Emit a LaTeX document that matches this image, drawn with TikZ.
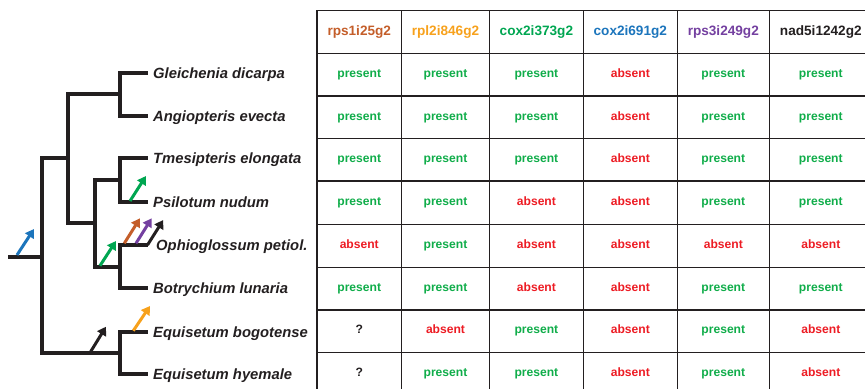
\documentclass[tikz,border=0pt]{standalone}
\usepackage{fontspec}
\setmainfont{Liberation Sans}
\usetikzlibrary{arrows.meta}

\definecolor{ink}{HTML}{231F20}
\definecolor{pgreen}{HTML}{10AD4A}
\definecolor{ared}{HTML}{ED1C24}
\definecolor{cbrown}{HTML}{C45E2A}
\definecolor{corange}{HTML}{F7A11C}
\definecolor{cgreen}{HTML}{00A651}
\definecolor{cblue}{HTML}{1C75BC}
\definecolor{cpurple}{HTML}{7440A0}

% cell texts, picked by the one-letter state code
\newcommand\txtp{present}
\newcommand\txta{absent}
\newcommand\txtq{?}

\begin{document}
\begin{tikzpicture}[x=1pt,y=-1pt,
  branch/.style={line width=4pt, draw=ink, line join=miter},
  gain/.style={line width=3pt, -{Triangle[width=10pt,length=8.5pt]}},
  rule/.style={line width=1.5pt, draw=ink},
  taxon/.style={anchor=base west, inner sep=0pt, text=ink,
    font=\fontsize{14.8}{17}\selectfont\bfseries\itshape},
  head/.style={inner sep=0pt, font=\fontsize{13.6}{16}\selectfont\bfseries,
    text height=9.8pt, text depth=2.9pt},
  cell/.style={inner sep=0pt, font=\fontsize{12.1}{14}\selectfont\bfseries,
    text height=8.7pt, text depth=2.6pt},
  stp/.style={cell, text=pgreen},
  sta/.style={cell, text=ared},
  stq/.style={cell, text=ink},
]
\useasboundingbox (0,0) rectangle (865,389);

% ---------- tree ----------
\coordinate (root) at (8,256.7);
\coordinate (nRoot) at (42,256.7);
\coordinate (nFern) at (68,158.3);
\coordinate (nGA) at (120,94.35);
\coordinate (nPs) at (95,223.3);
\coordinate (nTP) at (120,180.3);
\coordinate (nOB) at (120,266.65);
\coordinate (nEq) at (120,352.85);

\coordinate (tG) at (148,72.7);
\coordinate (tA) at (148,116);
\coordinate (tT) at (148,158.3);
\coordinate (tP) at (148,201.7);
\coordinate (tO) at (148,245);
\coordinate (tB) at (148,288.3);
\coordinate (tEb) at (148,331.7);
\coordinate (tEh) at (148,374);

\draw[branch] (root) -- (nRoot);
\draw[branch] (nRoot) |- (nFern);
\draw[branch] (nRoot) |- (nEq);
\draw[branch] (nFern) |- (nGA);
\draw[branch] (nFern) |- (nPs);
\draw[branch] (nGA) |- (tG);
\draw[branch] (nGA) |- (tA);
\draw[branch] (nPs) |- (nTP);
\draw[branch] (nPs) |- (nOB);
\draw[branch] (nTP) |- (tT);
\draw[branch] (nTP) |- (tP);
\draw[branch] (nOB) |- (tO);
\draw[branch] (nOB) |- (tB);
\draw[branch] (nEq) |- (tEb);
\draw[branch] (nEq) |- (tEh);

\node[taxon] (lG) at (153,78) {Gleichenia dicarpa};
\node[taxon] (lA) at (153,121.3) {Angiopteris evecta};
\node[taxon] (lT) at (153,163.6) {Tmesipteris elongata};
\node[taxon] (lP) at (153,207) {Psilotum nudum};
\node[taxon] (lO) at (156,250.3) {Ophioglossum petiol.};
\node[taxon] (lB) at (153,293.6) {Botrychium lunaria};
\node[taxon] (lEb) at (153,337) {Equisetum bogotense};
\node[taxon] (lEh) at (153,379.3) {Equisetum hyemale};

% ---------- intron gains ----------
\coordinate (gBlue0) at (17,255);     \coordinate (gBlue1) at (34,229);
\coordinate (gGrA0) at (130,201);     \coordinate (gGrA1) at (146,176);
\coordinate (gGrB0) at (100,265.7);   \coordinate (gGrB1) at (116,241);
\coordinate (gBr0) at (124.3,243.3);  \coordinate (gBr1) at (140,218.3);
\coordinate (gPu0) at (136,243.3);    \coordinate (gPu1) at (151.7,218.3);
\coordinate (gBkA0) at (147.5,245);   \coordinate (gBkA1) at (163.3,220);
\coordinate (gBkB0) at (90,352.7);    \coordinate (gBkB1) at (106,326.7);
\coordinate (gOr0) at (133.3,330.7);  \coordinate (gOr1) at (150,306);

\draw[gain, cblue] (gBlue0) -- (gBlue1);
\draw[gain, cgreen] (gGrA0) -- (gGrA1);
\draw[gain, cgreen] (gGrB0) -- (gGrB1);
\draw[gain, cbrown] (gBr0) -- (gBr1);
\draw[gain, cpurple] (gPu0) -- (gPu1);
\draw[gain, ink] (gBkA0) -- (gBkA1);
\draw[gain, ink] (gBkB0) -- (gBkB1);
\draw[gain, corange] (gOr0) -- (gOr1);

% ---------- table ----------
\foreach \xx in {317,401.5,489.5,583.3,677.3,769.3}
  \draw[rule] (\xx,10.3) -- (\xx,389);
\foreach \yy in {10.3,53.3,95.8,138.3,181.2,224.3,267.3,309.8,352.3}
  \draw[rule] (316.25,\yy) -- (865,\yy);

\foreach \xx [count=\c] in {359.25,445.5,536.4,630.3,723.3,820.8}
  \coordinate (cx\c) at (\xx,0);
\foreach \yy [count=\r from 0] in {31.8,74.5,117,159.7,202.6,245.8,288.3,330.8,373.8}
  \coordinate (ry\r) at (0,\yy);

\node[head, text=cbrown] (h1) at (cx1|-ry0) {rps1i25g2};
\node[head, text=corange] (h2) at (cx2|-ry0) {rpl2i846g2};
\node[head, text=cgreen] (h3) at (cx3|-ry0) {cox2i373g2};
\node[head, text=cblue] (h4) at (cx4|-ry0) {cox2i691g2};
\node[head, text=cpurple] (h5) at (cx5|-ry0) {rps3i249g2};
\node[head, text=ink] (h6) at (cx6|-ry0) {nad5i1242g2};

\foreach \r/\states in {1/{p,p,p,a,p,p}, 2/{p,p,p,a,p,p}, 3/{p,p,p,a,p,p},
    4/{p,p,a,a,p,p}, 5/{a,p,a,a,a,a}, 6/{p,p,a,a,p,p},
    7/{q,a,p,a,p,a}, 8/{q,p,p,a,p,a}}
  \foreach \s [count=\c] in \states
    \node[st\s] (r\r c\c) at (cx\c|-ry\r) {\csname txt\s\endcsname};
\end{tikzpicture}
\end{document}
